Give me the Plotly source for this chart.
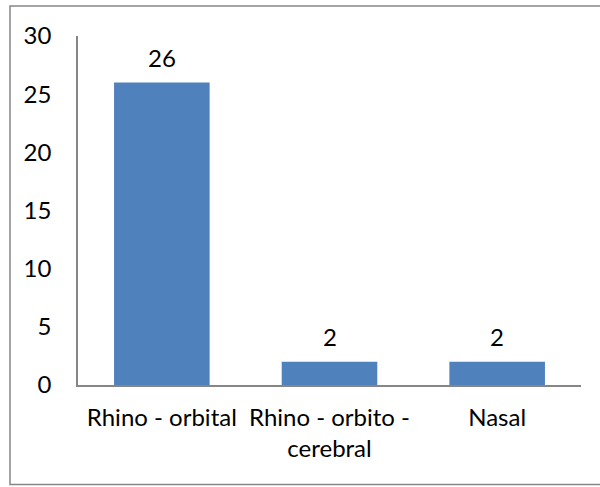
import plotly.graph_objects as go

categories = ["Rhino - orbital", "Rhino - orbito -<br>cerebral", "Nasal"]
counts = [26, 2, 2]
y_ticks = [0, 5, 10, 15, 20, 25, 30]

FONT = "Lato"
FONT_SIZE = 24
BAR_COLOR = "#4F81BD"
AXIS_COLOR = "#868686"

fig = go.Figure(
    go.Bar(
        x=categories,
        y=counts,
        marker=dict(color=BAR_COLOR, line=dict(width=0)),
        hoverinfo="skip",
    )
)

# value labels above each bar
for cat, val in zip(categories, counts):
    fig.add_annotation(
        x=cat, y=val, text=str(val), showarrow=False,
        yanchor="bottom", yshift=9,
        font=dict(family=FONT, size=FONT_SIZE, color="#000000"),
    )

# chart-area frame
fig.add_shape(
    type="rect", xref="paper", yref="paper",
    x0=-0.1352, x1=1.06, y0=-0.285, y1=1.086,
    line=dict(color=AXIS_COLOR, width=1.5), fillcolor="rgba(0,0,0,0)",
    layer="below",
)

fig.update_layout(
    width=600, height=487,
    margin=dict(l=78, r=19, t=36, b=102),
    paper_bgcolor="white", plot_bgcolor="white",
    bargap=0.43,
    showlegend=False,
    font=dict(family=FONT, size=FONT_SIZE, color="#000000"),
    xaxis=dict(
        showline=True, linecolor=AXIS_COLOR, linewidth=1.5,
        showgrid=False, ticks="", ticklabelstandoff=10,
        tickfont=dict(family=FONT, size=FONT_SIZE, color="#000000"),
        fixedrange=True,
    ),
    yaxis=dict(
        range=[0, 30], tickvals=y_ticks,
        showline=True, linecolor=AXIS_COLOR, linewidth=1.5,
        showgrid=False, zeroline=False, ticks="", ticklabelstandoff=20,
        tickfont=dict(family=FONT, size=FONT_SIZE, color="#000000"),
        fixedrange=True,
    ),
)

fig.write_html("out.html")
